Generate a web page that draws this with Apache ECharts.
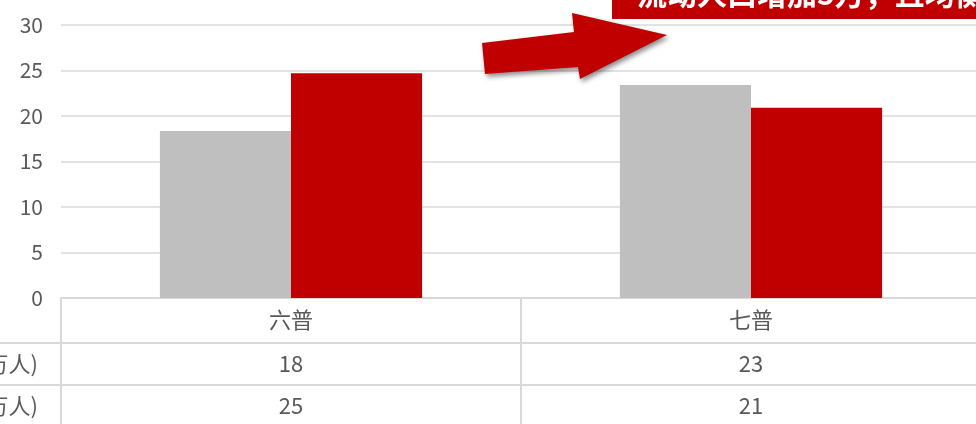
<!DOCTYPE html>
<html><head><meta charset="utf-8">
<script src="https://cdn.jsdelivr.net/npm/echarts@6/dist/echarts.min.js"></script>
<style>html,body{margin:0;padding:0;background:#fff;overflow:hidden;width:976px;height:424px}#c{width:1000px;height:424px}</style>
</head><body><div id="c"></div>
<script>
const categories = ['六普', '七普'];
const seriesNames = ['流出人口(万人)', '流入人口(万人)'];
const grayValues = [18.35, 23.4];
const redValues = [24.7, 20.9];
const yTicks = [0, 5, 10, 15, 20, 25, 30];
const calloutText = '流动人口增加5万，且均衡发展';

const FONT = '"Noto Sans CJK SC", "Noto Sans", sans-serif';
const TXT = '#595959';
const LINE = '#d9d9d9';
const chart = echarts.init(document.getElementById('c'), null, {renderer: 'canvas'});
chart.setOption({
  animation: false,
  grid: {left: 61, right: 19, top: 25, bottom: 126},
  xAxis: {
    type: 'category', data: categories,
    axisLine: {show: true, lineStyle: {color: LINE, width: 2}},
    axisTick: {show: false},
    axisLabel: {color: TXT, fontSize: 22, fontFamily: FONT, margin: 11}
  },
  yAxis: {
    type: 'value', min: yTicks[0], max: yTicks[yTicks.length - 1], interval: 5,
    axisLine: {show: false}, axisTick: {show: false},
    axisLabel: {color: TXT, fontSize: 21, fontFamily: FONT, margin: 18},
    splitLine: {lineStyle: {color: LINE, width: 1.5}}
  },
  series: [
    {name: seriesNames[0], type: 'bar', data: grayValues, itemStyle: {color: '#BFBFBF'}, barGap: '0%', barCategoryGap: '43%'},
    {name: seriesNames[1], type: 'bar', data: redValues, itemStyle: {color: '#C00000'}, barGap: '0%', barCategoryGap: '43%'}
  ]
});

const g = [];
const y0 = chart.convertToPixel({yAxisIndex: 0}, 0);
const c0 = chart.convertToPixel({xAxisIndex: 0}, categories[0]);
const c1 = chart.convertToPixel({xAxisIndex: 0}, categories[1]);
const half = (c1 - c0) / 2;
const leftX = c0 - half;
const rows = [y0 + 45, y0 + 45 + 42];
rows.forEach(y => g.push({type: 'line', shape: {x1: 0, y1: y, x2: 1000, y2: y}, style: {stroke: LINE, lineWidth: 2}}));
[leftX, c0 + half].forEach(x => g.push({type: 'line', shape: {x1: x, y1: y0, x2: x, y2: 424}, style: {stroke: LINE, lineWidth: 2}}));
[grayValues, redValues].forEach((vals, r) => {
  const yc = rows[r] + 21;
  vals.forEach((v, i) => {
    const x = chart.convertToPixel({xAxisIndex: 0}, categories[i]);
    g.push({type: 'text', x: x, y: yc, style: {text: String(Math.round(v)), fill: TXT, font: '22px ' + FONT, textAlign: 'center', textVerticalAlign: 'middle'}});
  });
  g.push({type: 'text', x: 38, y: yc, style: {text: seriesNames[r], fill: TXT, font: '22px ' + FONT, textAlign: 'right', textVerticalAlign: 'middle'}});
});
g.push({type: 'rect', shape: {x: 612, y: -40, width: 420, height: 59}, style: {fill: '#C00000'}});
g.push({type: 'text', x: 637, y: 9, style: {text: calloutText, fill: '#fff', font: 'bold 30px ' + FONT, textAlign: 'left', textVerticalAlign: 'bottom'}});
g.push({type: 'polygon', shape: {points: [[482,43],[574,32],[572,13],[667,35],[580,79],[578,67],[485,74]]},
  style: {fill: '#C00000', shadowBlur: 5, shadowOffsetX: 2, shadowOffsetY: 3, shadowColor: 'rgba(0,0,0,0.45)'}});
chart.setOption({graphic: g});
</script></body></html>
